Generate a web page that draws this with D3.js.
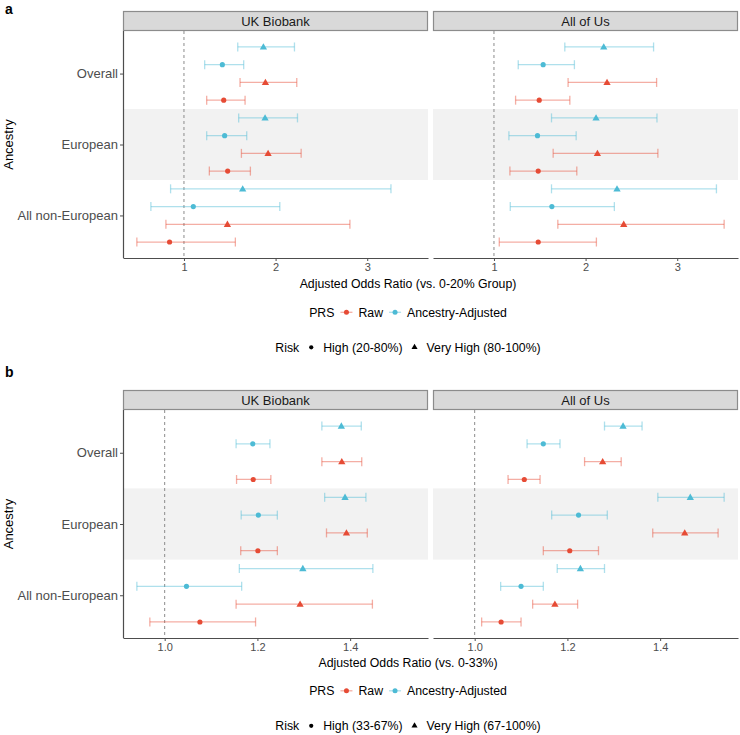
<!DOCTYPE html>
<html><head><meta charset="utf-8">
<script src="https://cdn.jsdelivr.net/npm/d3@7"></script>
<style>
html,body{margin:0;padding:0;background:#fff;}
text{font-family:"Liberation Sans",Arial,Helvetica,sans-serif;}
</style></head>
<body><svg id="chart" width="740" height="735"></svg>
<script>
// ---------------- DATA ----------------
const ancestries = ["Overall", "European", "All non-European"];
const cohorts = ["UK Biobank", "All of Us"];
const prsLevels = ["Raw", "Ancestry-Adjusted"];
const riskLevelsA = ["High (20-80%)", "Very High (80-100%)"];
const riskLevelsB = ["High (33-67%)", "Very High (67-100%)"];
// order within each ancestry: Raw-High, Raw-VeryHigh, Adjusted-High, Adjusted-VeryHigh
const ukbA_or = [1.434, 1.889, 1.419, 1.867, 1.477, 1.918, 1.444, 1.885, 0.843, 1.474, 1.102, 1.641];
const ukbA_lo = [1.248, 1.612, 1.226, 1.587, 1.277, 1.627, 1.248, 1.597, 0.486, 0.803, 0.639, 0.854];
const ukbA_hi = [1.667, 2.231, 1.652, 2.206, 1.725, 2.279, 1.685, 2.239, 1.561, 2.811, 2.046, 3.259];
const aouA_or = [1.494, 2.234, 1.537, 2.198, 1.483, 2.129, 1.475, 2.114, 1.483, 2.416, 1.632, 2.343];
const aouA_lo = [1.236, 1.809, 1.265, 1.773, 1.174, 1.646, 1.163, 1.628, 1.058, 1.697, 1.178, 1.628];
const aouA_hi = [1.828, 2.775, 1.878, 2.742, 1.904, 2.789, 1.897, 2.779, 2.118, 3.512, 2.314, 3.428];
const ukbB_or = [1.191, 1.382, 1.190, 1.381, 1.201, 1.392, 1.202, 1.389, 1.076, 1.292, 1.047, 1.298];
const ukbB_lo = [1.155, 1.339, 1.154, 1.339, 1.164, 1.349, 1.165, 1.345, 0.968, 1.154, 0.940, 1.161];
const ukbB_hi = [1.229, 1.425, 1.227, 1.424, 1.243, 1.437, 1.243, 1.434, 1.196, 1.448, 1.166, 1.449];
const aouB_or = [1.107, 1.276, 1.148, 1.320, 1.205, 1.453, 1.224, 1.465, 1.057, 1.173, 1.100, 1.228];
const aouB_lo = [1.072, 1.237, 1.113, 1.280, 1.148, 1.384, 1.166, 1.395, 1.015, 1.125, 1.056, 1.178];
const aouB_hi = [1.141, 1.316, 1.184, 1.361, 1.267, 1.525, 1.286, 1.538, 1.100, 1.222, 1.148, 1.280];
const ticksA = [1, 2, 3];
const ticksB = [1.0, 1.2, 1.4];
const xTitleA = "Adjusted Odds Ratio (vs. 0-20% Group)";
const xTitleB = "Adjusted Odds Ratio (vs. 0-33%)";

// ---------------- STYLE ----------------
const colors = {"Raw": "#E64B35", "Ancestry-Adjusted": "#4DBBD5"};
const svg = d3.select("#chart");
const panelX = [[123, 428], [433, 738]];
const FONT = '"Liberation Sans",Arial,Helvetica,sans-serif';

function buildRows(orArr, loArr, hiArr) {
  const rows = [];
  ancestries.forEach((a, ai) => {
    prsLevels.forEach((p, pi) => {
      [0, 1].forEach(ri => {
        const k = ai * 4 + pi * 2 + ri;
        rows.push({ancestry: a, prs: p, risk: ri, key: p + "|" + ri,
                   or: orArr[k], lo: loArr[k], hi: hiArr[k]});
      });
    });
  });
  return rows;
}

function drawPanel(cfg) {
  const g = svg.append("g");
  const all = cfg.data.flat();
  const mn = d3.min(all, d => d.lo), mx = d3.max(all, d => d.hi);
  const pad = (mx - mn) * 0.05;
  const dom = [mn - pad, mx + pad];

  // label
  g.append("text").attr("x", 5).attr("y", cfg.labelY).text(cfg.label)
    .style("font-size", "14px").style("font-weight", "bold").attr("fill", "#000");

  const y = d3.scalePoint().domain(ancestries).range([cfg.plotTop, cfg.plotBottom]).padding(0.6);
  const step = y.step();
  const dodge = d3.scalePoint()
    .domain(["Ancestry-Adjusted|1", "Ancestry-Adjusted|0", "Raw|1", "Raw|0"])
    .range([-0.375 * step, 0.375 * step]);

  cfg.data.forEach((rows, ci) => {
    const [x0, x1] = panelX[ci];
    const x = d3.scaleLinear().domain(dom).range([x0, x1]);
    const pg = g.append("g");
    // strip
    pg.append("rect").attr("x", x0 + 0.5).attr("y", cfg.stripTop + 0.5)
      .attr("width", x1 - x0 - 1).attr("height", cfg.plotTop - cfg.stripTop - 1)
      .attr("fill", "#D9D9D9").attr("stroke", "#8C8C8C").attr("stroke-width", 1.2);
    pg.append("text").attr("x", (x0 + x1) / 2).attr("y", (cfg.stripTop + cfg.plotTop) / 2 + 4.5)
      .attr("text-anchor", "middle").style("font-size", "13px").attr("fill", "#1A1A1A")
      .text(cohorts[ci]);
    // band for European
    pg.append("rect").attr("x", x0).attr("width", x1 - x0)
      .attr("y", y("European") - step / 2).attr("height", step)
      .attr("fill", "#F2F2F2");
    // reference line
    pg.append("line").attr("x1", x(1)).attr("x2", x(1))
      .attr("y1", cfg.plotTop).attr("y2", cfg.plotBottom)
      .attr("stroke", "#8C8C8C").attr("stroke-width", 1).attr("stroke-dasharray", "3,3");
    // error bars
    const eb = pg.selectAll("g.eb").data(rows).join("g")
      .attr("stroke", d => colors[d.prs]).attr("stroke-opacity", 0.45).attr("stroke-width", 1.3);
    const yy = d => y(d.ancestry) + dodge(d.key);
    eb.append("line").attr("x1", d => x(d.lo)).attr("x2", d => x(d.hi)).attr("y1", yy).attr("y2", yy);
    eb.append("line").attr("x1", d => x(d.lo)).attr("x2", d => x(d.lo)).attr("y1", d => yy(d) - 4.5).attr("y2", d => yy(d) + 4.5);
    eb.append("line").attr("x1", d => x(d.hi)).attr("x2", d => x(d.hi)).attr("y1", d => yy(d) - 4.5).attr("y2", d => yy(d) + 4.5);
    // points
    pg.selectAll("path.pt").data(rows).join("path")
      .attr("transform", d => `translate(${x(d.or)},${yy(d) + (d.risk ? 0.5 : 0)})`)
      .attr("d", d => d.risk ? d3.symbol(d3.symbolTriangle, 23)() : d3.symbol(d3.symbolCircle, 21)())
      .attr("fill", d => colors[d.prs]);
    // x axis
    const ax = pg.append("g").attr("transform", `translate(0,${cfg.plotBottom})`)
      .call(d3.axisBottom(x).tickValues(cfg.ticks).tickSize(3).tickSizeOuter(0).tickFormat(cfg.fmt).tickPadding(2));
    ax.select(".domain").attr("stroke", "#4D4D4D").attr("stroke-width", 1.2);
    ax.selectAll(".tick line").attr("stroke", "#4D4D4D");
    ax.selectAll(".tick text").attr("fill", "#4D4D4D").style("font-size", "11px").style("font-family", FONT);
    if (ci === 0) {
      const ay = pg.append("g").attr("transform", `translate(${x0},0)`)
        .call(d3.axisLeft(y).tickSize(3).tickSizeOuter(0).tickPadding(2));
      ay.select(".domain").attr("stroke", "#4D4D4D").attr("stroke-width", 1.2)
        .attr("d", `M0.5,${cfg.plotTop}V${cfg.plotBottom}`);
      ay.selectAll(".tick line").attr("stroke", "#4D4D4D");
      ay.selectAll(".tick text").attr("fill", "#4D4D4D").style("font-size", "13px").style("font-family", FONT);
    }
  });

  // y title
  g.append("text").attr("transform", `translate(12.5,${(cfg.plotTop + cfg.plotBottom) / 2}) rotate(-90)`)
    .attr("text-anchor", "middle").style("font-size", "13px").attr("fill", "#000").text("Ancestry");
  // x title
  const cx = 408;
  g.append("text").attr("x", cx).attr("y", cfg.xTitleY).attr("text-anchor", "middle")
    .style("font-size", "12.3px").attr("fill", "#000").text(cfg.xTitle);

  // legends
  function legend(yBase, title, items) {
    const lg = g.append("g");
    let cur = 0;
    const t = lg.append("text").attr("x", cur).attr("y", yBase).style("font-size", "12.3px").text(title);
    cur += t.node().getComputedTextLength() + 6;
    items.forEach(it => {
      const kx = cur + 6;
      it.key(lg, kx, yBase - 4.2);
      cur += 12 + 6;
      const tt = lg.append("text").attr("x", cur).attr("y", yBase).style("font-size", "12.3px").text(it.label);
      cur += tt.node().getComputedTextLength() + 6;
    });
    cur -= 6;
    lg.attr("transform", `translate(${cx - cur / 2},0)`);
  }
  legend(cfg.prsY, "PRS", prsLevels.map(p => ({
    label: p,
    key: (lg, kx, ky) => {
      lg.append("line").attr("x1", kx - 6).attr("x2", kx + 6).attr("y1", ky).attr("y2", ky)
        .attr("stroke", colors[p]).attr("stroke-opacity", 0.45).attr("stroke-width", 1.3);
      lg.append("circle").attr("cx", kx).attr("cy", ky).attr("r", 2.5).attr("fill", colors[p]);
    }
  })));
  legend(cfg.riskY, "Risk", cfg.riskLevels.map((r, ri) => ({
    label: r,
    key: (lg, kx, ky) => {
      lg.append("path").attr("transform", `translate(${kx},${ky})`)
        .attr("d", ri ? d3.symbol(d3.symbolTriangle, 16)() : d3.symbol(d3.symbolCircle, 14)())
        .attr("fill", "#000");
    }
  })));
}

drawPanel({
  label: "a", labelY: 14, stripTop: 11, plotTop: 31, plotBottom: 258,
  data: [buildRows(ukbA_or, ukbA_lo, ukbA_hi), buildRows(aouA_or, aouA_lo, aouA_hi)],
  ticks: ticksA, fmt: d3.format("d"), xTitle: xTitleA, xTitleY: 287.5,
  prsY: 316.5, riskY: 351.5, riskLevels: riskLevelsA
});
drawPanel({
  label: "b", labelY: 377, stripTop: 390, plotTop: 410, plotBottom: 638,
  data: [buildRows(ukbB_or, ukbB_lo, ukbB_hi), buildRows(aouB_or, aouB_lo, aouB_hi)],
  ticks: ticksB, fmt: d3.format(".1f"), xTitle: xTitleB, xTitleY: 666.5,
  prsY: 695, riskY: 730, riskLevels: riskLevelsB
});
</script></body></html>
